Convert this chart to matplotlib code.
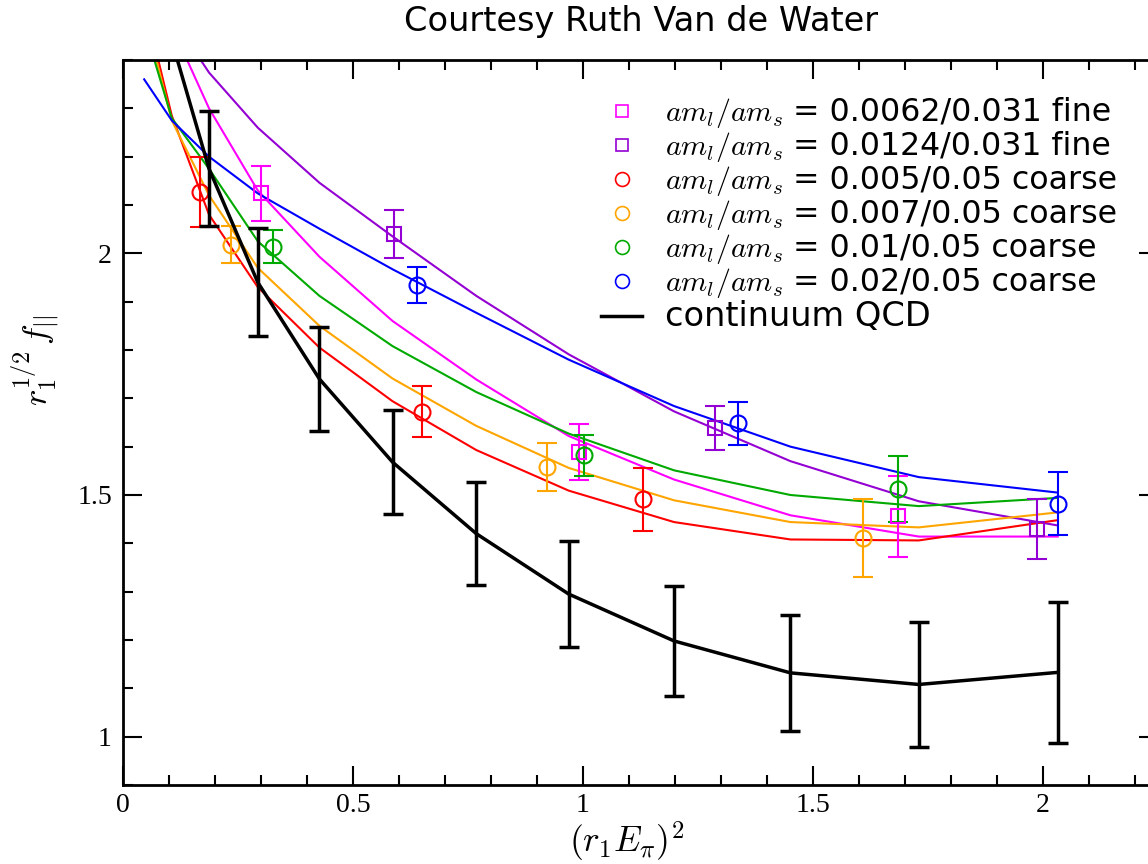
import numpy as np
import matplotlib.pyplot as plt
from matplotlib.lines import Line2D
from matplotlib.ticker import MultipleLocator, FormatStrFormatter

plt.rcParams['font.family'] = ['Liberation Serif', 'DejaVu Serif']
plt.rcParams['mathtext.fontset'] = 'cm'

nan = np.nan

# x positions of the fit curves (r1 E_pi)^2
x_fit = [0.046, 0.106, 0.187, 0.293, 0.427, 0.586, 0.768, 0.969, 1.198, 1.451, 1.730, 2.032]

fit_red = [2.52, 2.285, 2.08, 1.93, 1.805, 1.694, 1.593, 1.509, 1.444, 1.408, 1.406, 1.448]
fit_orange = [2.50, 2.275, 2.12, 1.97, 1.85, 1.741, 1.643, 1.556, 1.489, 1.444, 1.433, 1.464]
fit_green = [2.47, 2.28, 2.175, 2.025, 1.912, 1.808, 1.713, 1.627, 1.551, 1.50, 1.477, 1.494]
fit_magenta = [nan, 2.47, 2.30, 2.13, 1.993, 1.86, 1.739, 1.622, 1.532, 1.458, 1.414, 1.414]
fit_purple = [nan, 2.49, 2.374, 2.26, 2.146, 2.035, 1.912, 1.791, 1.673, 1.570, 1.487, 1.437]
fit_blue = [2.36, 2.275, 2.20, 2.124, 2.051, 1.967, 1.877, 1.78, 1.684, 1.60, 1.537, 1.505]

# continuum QCD curve
qcd = [nan, 2.44, 2.175, 1.94, 1.74, 1.568, 1.42, 1.295, 1.198, 1.132, 1.108, 1.133]
qcd_err = [nan, nan, 0.119, 0.112, 0.107, 0.108, 0.107, 0.11, 0.113, 0.12, 0.13, 0.146]

# lattice data points
mag_x = [0.301, 0.992, 1.684]
mag_y = [2.124, 1.589, 1.456]
mag_e = [0.057, 0.057, 0.084]

pur_x = [0.589, 1.288, 1.988]
pur_y = [2.04, 1.639, 1.429]
pur_e = [0.05, 0.045, 0.062]

red_x = [0.168, 0.649, 1.131]
red_y = [2.127, 1.672, 1.491]
red_e = [0.073, 0.053, 0.065]

ora_x = [0.235, 0.922, 1.609]
ora_y = [2.018, 1.558, 1.411]
ora_e = [0.038, 0.05, 0.08]

grn_x = [0.325, 1.003, 1.684]
grn_y = [2.014, 1.582, 1.513]
grn_e = [0.035, 0.042, 0.068]

blu_x = [0.640, 1.337, 2.032]
blu_y = [1.934, 1.648, 1.482]
blu_e = [0.037, 0.045, 0.065]

ratios = ['0.0062/0.031 fine', '0.0124/0.031 fine', '0.005/0.05 coarse',
          '0.007/0.05 coarse', '0.01/0.05 coarse', '0.02/0.05 coarse']

c_mag = '#ff00ff'
c_pur = '#9400d3'
c_red = '#ff0000'
c_ora = '#ffa500'
c_grn = '#00aa00'
c_blu = '#0000ff'

fig = plt.figure(figsize=(11.48, 8.64), dpi=100)
ax = fig.add_axes([123/1148, 1 - 785/864, (1158 - 123)/1148, 725/864])

fits = [(fit_magenta, c_mag), (fit_purple, c_pur), (fit_red, c_red),
        (fit_orange, c_ora), (fit_green, c_grn), (fit_blue, c_blu)]
for vals, c in fits:
    ax.plot(x_fit, vals, color=c, lw=1.5)

points = [(mag_x, mag_y, mag_e, c_mag, 's', 10),
          (pur_x, pur_y, pur_e, c_pur, 's', 10),
          (red_x, red_y, red_e, c_red, 'o', 11.5),
          (ora_x, ora_y, ora_e, c_ora, 'o', 11.5),
          (grn_x, grn_y, grn_e, c_grn, 'o', 11.5),
          (blu_x, blu_y, blu_e, c_blu, 'o', 11.5)]
for px, py, pe, c, m, ms in points:
    ax.errorbar(px, py, yerr=pe, fmt=m, mfc='none', mec=c, mew=1.5, ms=ms,
                ecolor=c, elinewidth=1.5, capsize=7, capthick=1.5)

ax.plot(x_fit, qcd, color='black', lw=2.5, zorder=5)
ax.errorbar(x_fit, qcd, yerr=qcd_err, fmt='none', ecolor='black',
            elinewidth=2.5, capsize=7.5, capthick=2.5, zorder=5)

ax.set_xlim(0, 2.25)
ax.set_ylim(0.9, 2.4)
ax.xaxis.set_major_locator(MultipleLocator(0.5))
ax.xaxis.set_minor_locator(MultipleLocator(0.1))
ax.yaxis.set_major_locator(MultipleLocator(0.5))
ax.yaxis.set_minor_locator(MultipleLocator(0.1))
ax.xaxis.set_major_formatter(FormatStrFormatter('%g'))
ax.yaxis.set_major_formatter(FormatStrFormatter('%g'))
ax.tick_params(which='both', direction='in', top=True, right=True, width=1.5)
ax.tick_params(which='major', length=14, labelsize=20, pad=8)
ax.tick_params(axis='x', which='major', pad=6)
ax.tick_params(which='minor', length=7)
for s in ax.spines.values():
    s.set_linewidth(2)

fig.text(627/1148, 1 - 863/864, r'$(r_1 E_\pi)^2$', fontsize=25.5, ha='center', va='bottom')
fig.text(36/1148, 1 - 360/864, r'$r_1^{1/2}\, f_{||}$', fontsize=25, rotation=90,
         ha='center', va='center')
fig.text(641/1148, 1 - 22/864, 'Courtesy Ruth Van de Water', fontsize=24.2,
         family='DejaVu Sans', ha='center', va='center')

# legend: markers + math part, sans-serif ratios appended after layout
handles = [Line2D([], [], ls='none', marker='s', ms=8, mfc='none', mec=c_mag, mew=1.2),
           Line2D([], [], ls='none', marker='s', ms=8, mfc='none', mec=c_pur, mew=1.2),
           Line2D([], [], ls='none', marker='o', ms=10, mfc='none', mec=c_red, mew=1.2),
           Line2D([], [], ls='none', marker='o', ms=10, mfc='none', mec=c_ora, mew=1.2),
           Line2D([], [], ls='none', marker='o', ms=10, mfc='none', mec=c_grn, mew=1.2),
           Line2D([], [], ls='none', marker='o', ms=10, mfc='none', mec=c_blu, mew=1.2),
           Line2D([], [], color='black', lw=2.5)]
labels = [r'$am_l/am_s$'] * 6 + ['continuum QCD']
leg = ax.legend(handles, labels, loc='upper left',
                bbox_to_anchor=(601/1148, 1 - 96/864), bbox_transform=fig.transFigure,
                frameon=False, fontsize=20, handlelength=1.48, handletextpad=0.83,
                labelspacing=0.0, borderpad=0, borderaxespad=0)
for t in leg.get_texts()[:6]:
    t.set_fontsize(21.5)
leg.get_texts()[6].set_fontfamily('DejaVu Sans')
leg.get_texts()[6].set_fontsize(24.2)

fig.canvas.draw()
rend = fig.canvas.get_renderer()
for t, r in zip(leg.get_texts()[:6], ratios):
    bb = t.get_window_extent(rend)
    base = t.get_transform().transform((0, 0))
    fig.text(bb.x1 / fig.bbox.width, base[1] / fig.bbox.height, ' = ' + r,
             fontsize=22.8, family='DejaVu Sans', ha='left', va='baseline')

fig.savefig('out.png', dpi=100)
